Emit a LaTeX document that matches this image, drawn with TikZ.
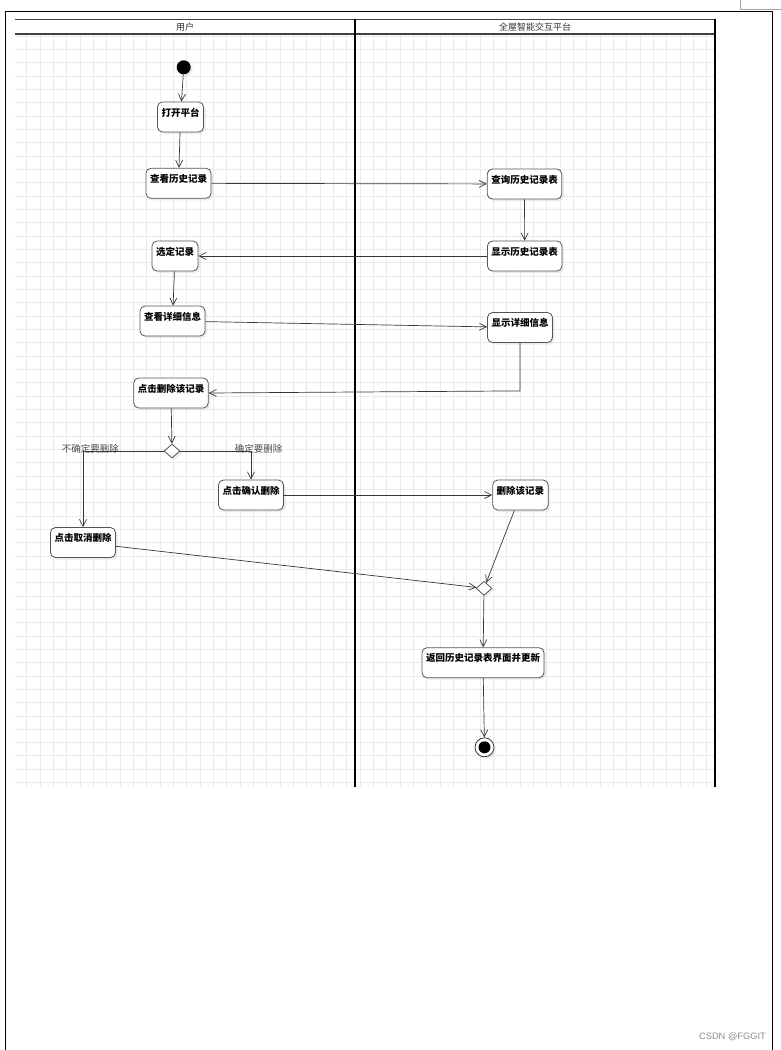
\documentclass[tikz,border=0pt]{standalone}
\usepackage{fontspec}
\newfontfamily\cjk{Noto Sans CJK SC}
\newfontfamily\wmark{Liberation Sans}
\definecolor{linegray}{RGB}{55,55,55}
\definecolor{boxgray}{RGB}{85,85,85}
\definecolor{gridgray}{RGB}{234,234,234}
\usepackage{tikz}
\usetikzlibrary{arrows.meta,positioning,shapes.geometric,shadows}

\begin{document}
\begin{tikzpicture}[x=1pt,y=-1pt,
      act/.style={draw=boxgray,fill=white,line width=0.8pt,rounded corners=5pt,
                  inner xsep=4pt,inner ysep=2pt,text height=12pt,text depth=14pt,
                  font=\cjk\bfseries\fontsize{9.5}{10}\selectfont,
                  drop shadow={shadow xshift=2pt,shadow yshift=-2pt,fill=black!20,opacity=0.4}},
      dec/.style={diamond,draw=boxgray,fill=white,line width=0.8pt,inner sep=0pt,
                  minimum width=16pt,minimum height=14pt,
                  drop shadow={shadow xshift=2pt,shadow yshift=-2pt,fill=black!20,opacity=0.4}},
      hdr/.style={font=\cjk\fontsize{9}{10}\selectfont,text=black!80,inner sep=0pt},
      grd/.style={font=\cjk\fontsize{9.5}{10}\selectfont,text=black!70,inner sep=0pt},
      gridline/.style={draw=gridgray,line width=0.6pt},
      arr/.style={-{Straight Barb[length=7pt,width=7pt]},draw=linegray,line width=0.7pt}]
  \useasboundingbox (0,0) rectangle (781,1050);
  % page frame
  \draw[black!35,line width=0.6pt] (740.3,0) -- (740.3,9.3) -- (781,9.3);
  \draw[line width=1pt] (5,1050) -- (5,11) -- (772,11) -- (772,1050);
  % swimlanes
  \foreach \k in {2,...,53}
    \draw[gridline] (13.33*\k,35) -- (13.33*\k,787);
  \foreach \k in {2,...,58}
    \draw[gridline] (15,9.3+13.33*\k) -- (715,9.3+13.33*\k);
  \fill[white] (15,19.3) rectangle (715,34);
  \draw[black!75,line width=0.9pt] (15,19.3) -- (715,19.3);
  \draw[black!75,line width=1.6pt] (15,34) -- (715,34);
  \draw[line width=1.4pt] (355,19.3) -- (355,787);
  \draw[line width=1.4pt] (715,19.3) -- (715,787);
  \node[hdr] (user) at (185,26.7) {用户};
  \node[hdr] (home) at (535,26.7) {全屋智能交互平台};
  % activities
  \node[circle,fill=black,minimum size=14pt,inner sep=0pt,
        drop shadow={shadow xshift=2pt,shadow yshift=-2pt,fill=black!20,opacity=0.4}] (start) at (183.7,67.3) {};
  \foreach \n/\x/\y/\t in {open/180.5/117/打开平台, view/178.5/183.3/查看历史记录,
      query/524.5/184/查询历史记录表, show/524.7/256/显示历史记录表, pick/175/256/选定记录,
      detail/172.5/321/查看详细信息, sdetail/520/327.5/显示详细信息, del/171/393/点击删除该记录,
      confirm/251/495/点击确认删除, delrec/520.4/495/删除该记录, cancel/83/542.5/点击取消删除,
      back/483/662.7/返回历史记录表界面并更新} {
    \node[act] (\n) at (\x,\y) {\t};
  }
  \node[dec] (dec1) at (172,451) {};
  \node[dec] (dec2) at (484,588.3) {};
  \node[circle,draw=black!80,fill=white,line width=0.8pt,minimum size=19pt,inner sep=0pt,
        drop shadow={shadow xshift=2pt,shadow yshift=-2pt,fill=black!20,opacity=0.4}] (stop) at (484.5,747.3) {};
  \node[circle,fill=black,minimum size=12pt,inner sep=0pt] (stopdot) at (stop) {};
  % flows
  \foreach \s/\e in {start/open,open/view,view/query,query/show,show/pick,pick/detail,
      detail/sdetail,del/dec1,confirm/delrec,delrec/dec2,cancel/dec2,dec2/back,back/stop} {
    \draw[arr] (\s) -- (\e);
  }
  \draw[arr] (sdetail.south) -- ++(0,48) -- (del.east);
  \draw[arr] (dec1.west) -| (cancel.north);
  \draw[arr] (dec1.east) -| (confirm.north);
  \node[grd] (notsure) at (90.4,448.5) {不确定要删除};
  \node[grd] (sure) at (258.5,449) {确定要删除};
  \node[font=\wmark\fontsize{9.3}{10}\selectfont,text=black!45,inner sep=0pt] (csdn) at (732.5,1037) {CSDN @FGGIT};
\end{tikzpicture}
\end{document}
